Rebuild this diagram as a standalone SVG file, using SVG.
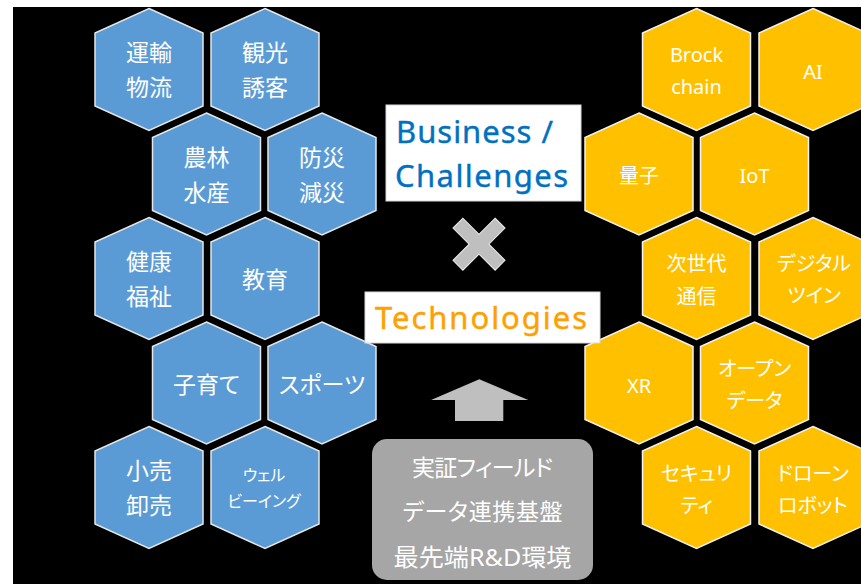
<svg xmlns="http://www.w3.org/2000/svg" xmlns:xlink="http://www.w3.org/1999/xlink" width="861" height="584" viewBox="0 0 861 584">
<style>
.hb{fill:#5B9BD5;stroke:#E6E6E6;stroke-width:1.5}
.hg{fill:#FFC000;stroke:#F2F2F2;stroke-width:1.5}
.tl{font-family:"Noto Sans","Noto Sans CJK JP",sans-serif;fill:#fff;font-size:23px;text-anchor:middle;dominant-baseline:central;font-feature-settings:"palt"}
.tr{font-family:"Noto Sans","Noto Sans CJK JP",sans-serif;fill:#fff;font-size:20px;text-anchor:middle;dominant-baseline:central;font-feature-settings:"palt"}
.ts{font-size:16px}
.big{font-family:"Noto Sans","Open Sans",sans-serif;font-size:31px;stroke-width:0.4}
.bt{font-family:"Noto Sans","Noto Sans CJK JP",sans-serif;fill:#fff;font-size:23px;text-anchor:middle;dominant-baseline:central;font-feature-settings:"palt"}
</style>
<defs>
<path id="hex" d="M0,-61 L54,-36.5 L54,36.5 L0,61 L-54,36.5 L-54,-36.5Z"/>
</defs>
<rect x="0" y="0" width="861" height="584" fill="#fff"/>
<rect x="13" y="7" width="848" height="577" fill="#000"/>

<g id="left-hexes">
<g id="n-unyu"><use xlink:href="#hex" class="hb" transform="translate(149,69.5)"/><text class="tl" x="149" y="52">運輸</text><text class="tl" x="149" y="87">物流</text></g>
<g id="n-kanko"><use xlink:href="#hex" class="hb" transform="translate(265,69.5)"/><text class="tl" x="265" y="52">観光</text><text class="tl" x="265" y="87">誘客</text></g>
<g id="n-norin"><use xlink:href="#hex" class="hb" transform="translate(206.5,174)"/><text class="tl" x="206.5" y="156.5">農林</text><text class="tl" x="206.5" y="191.5">水産</text></g>
<g id="n-bosai"><use xlink:href="#hex" class="hb" transform="translate(322,174)"/><text class="tl" x="322" y="156.5">防災</text><text class="tl" x="322" y="191.5">減災</text></g>
<g id="n-kenko"><use xlink:href="#hex" class="hb" transform="translate(149,278.5)"/><text class="tl" x="149" y="261">健康</text><text class="tl" x="149" y="296">福祉</text></g>
<g id="n-kyoiku"><use xlink:href="#hex" class="hb" transform="translate(265,278.5)"/><text class="tl" x="265" y="278.5">教育</text></g>
<g id="n-kosodate"><use xlink:href="#hex" class="hb" transform="translate(206.5,383)"/><text class="tl" x="206.5" y="384">子育て</text></g>
<g id="n-sports"><use xlink:href="#hex" class="hb" transform="translate(322,383)"/><text class="tl" x="322" y="384">スポーツ</text></g>
<g id="n-kouri"><use xlink:href="#hex" class="hb" transform="translate(149,487.5)"/><text class="tl" x="149" y="470">小売</text><text class="tl" x="149" y="505">卸売</text></g>
<g id="n-wellbeing"><use xlink:href="#hex" class="hb" transform="translate(265,487.5)"/><text class="tl ts" x="264" y="475">ウェル</text><text class="tl ts" x="264" y="501">ビーイング</text></g>
</g>

<g id="right-hexes">
<g id="n-block"><use xlink:href="#hex" class="hg" transform="translate(696.5,69.5)"/><text class="tr" x="696.5" y="54">Brock</text><text class="tr" x="696.5" y="86">chain</text></g>
<g id="n-ai"><use xlink:href="#hex" class="hg" transform="translate(813,69.5)"/><text class="tr" x="813" y="71">AI</text></g>
<g id="n-ryoshi"><use xlink:href="#hex" class="hg" transform="translate(639,174)"/><text class="tr" x="639" y="175">量子</text></g>
<g id="n-iot"><use xlink:href="#hex" class="hg" transform="translate(754.5,174)"/><text class="tr" x="754.5" y="175">IoT</text></g>
<g id="n-jisedai"><use xlink:href="#hex" class="hg" transform="translate(696.5,278.5)"/><text class="tr" x="696.5" y="263">次世代</text><text class="tr" x="696.5" y="296">通信</text></g>
<g id="n-twin"><use xlink:href="#hex" class="hg" transform="translate(813,278.5)"/><text class="tr" x="814" y="263">デジタル</text><text class="tr" x="814" y="295">ツイン</text></g>
<g id="n-xr"><use xlink:href="#hex" class="hg" transform="translate(639,383)"/><text class="tr" x="639" y="385">XR</text></g>
<g id="n-opendata"><use xlink:href="#hex" class="hg" transform="translate(754.5,383)"/><text class="tr" x="754.5" y="368">オープン</text><text class="tr" x="754.5" y="400">データ</text></g>
<g id="n-security"><use xlink:href="#hex" class="hg" transform="translate(696.5,487.5)"/><text class="tr" x="696.5" y="473">セキュリ</text><text class="tr" x="696.5" y="505">ティ</text></g>
<g id="n-drone"><use xlink:href="#hex" class="hg" transform="translate(813,487.5)"/><text class="tr" x="813" y="473">ドローン</text><text class="tr" x="813" y="505">ロボット</text></g>
</g>

<g id="n-business">
<rect x="386" y="105" width="195" height="96" fill="#fff" stroke="#D9D9D9" stroke-width="1"/>
<text class="big" x="396" y="143" fill="#0070C0" stroke="#0070C0" textLength="157">Business /</text>
<text class="big" x="395" y="186.5" fill="#0070C0" stroke="#0070C0" textLength="173">Challenges</text>
</g>

<g id="n-times">
<polygon transform="translate(479,244.2) rotate(45)" points="-7,-29.8 7,-29.8 7,-7 29.8,-7 29.8,7 7,7 7,29.8 -7,29.8 -7,7 -29.8,7 -29.8,-7 -7,-7" fill="#BFBFBF" stroke="#EDEDED" stroke-width="1"/>
</g>

<g id="n-tech">
<rect x="365" y="292" width="235" height="51" fill="#fff" stroke="#D9D9D9" stroke-width="1"/>
<text class="big" x="375" y="328.5" fill="#FFA000" stroke="#FFA000" textLength="212">Technologies</text>
</g>

<g id="connectors">
<polygon points="479.3,379.3 528.3,400 503.3,400 503.3,421 455,421 455,400 431,400" fill="#BFBFBF"/>
</g>

<g id="n-base">
<rect x="372" y="439" width="221" height="141" rx="15" ry="15" fill="#A6A6A6"/>
<text class="bt" x="482.5" y="466.5" textLength="141">実証フィールド</text>
<text class="bt" x="482.5" y="511" textLength="160">データ連携基盤</text>
<text class="bt" x="482.5" y="556" style="font-size:24px" textLength="178" lengthAdjust="spacingAndGlyphs">最先端R&amp;D環境</text>
</g>
</svg>
